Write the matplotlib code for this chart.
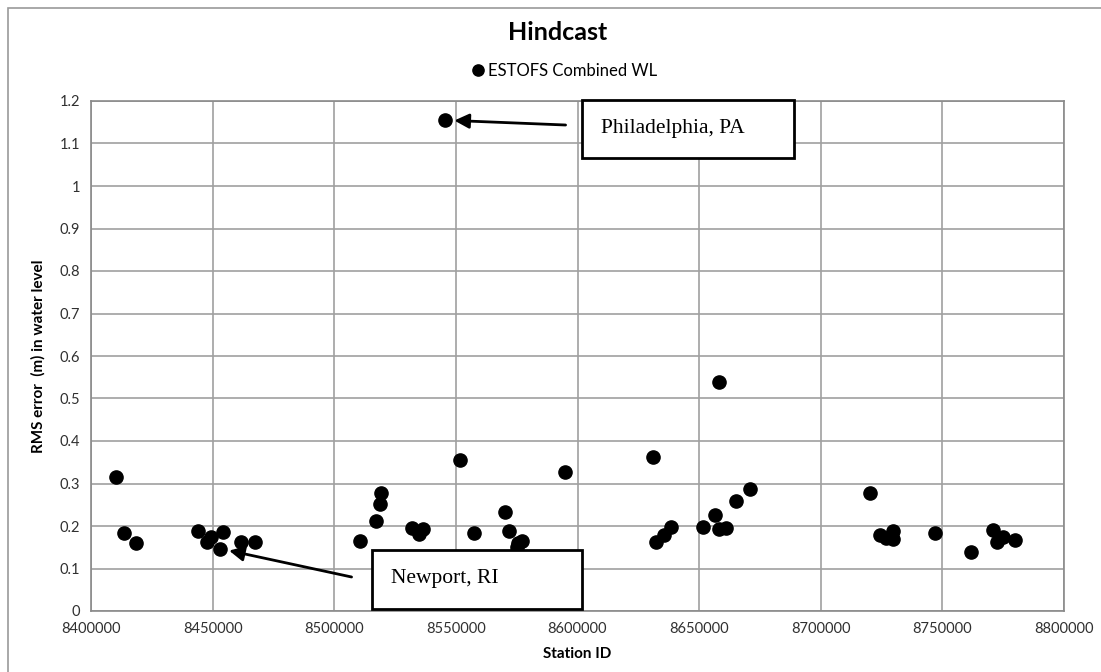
import matplotlib.pyplot as plt
from matplotlib.patches import Rectangle
from matplotlib.ticker import MultipleLocator, FuncFormatter

# station ids and RMS error (m)
station_id = [8410360, 8413490, 8418300, 8444000, 8447490, 8449140, 8452840,
              8454200, 8461760, 8467230,
              8545360,
              8510410, 8516990, 8518920, 8519330, 8531790, 8536310, 8534870,
              8551810, 8557290, 8570320, 8571800, 8575380, 8577020, 8575170,
              8594700,
              8632130, 8635530, 8638570, 8631010, 8651590, 8656380, 8658030,
              8660910, 8658030, 8665300, 8670780,
              8720130, 8724240, 8726700, 8729580, 8729580, 8747130, 8761660,
              8770710, 8772350, 8774820, 8779760]
rms_error = [0.316, 0.183, 0.161, 0.189, 0.162, 0.174, 0.147,
             0.185, 0.163, 0.163,
             1.155,
             0.165, 0.212, 0.252, 0.277, 0.195, 0.193, 0.181,
             0.355, 0.183, 0.233, 0.188, 0.160, 0.165, 0.151,
             0.328,
             0.163, 0.179, 0.197, 0.363, 0.197, 0.226, 0.192,
             0.195, 0.540, 0.259, 0.288,
             0.278, 0.179, 0.171, 0.188, 0.169, 0.183, 0.140,
             0.191, 0.162, 0.174, 0.167]

# labelled stations: (label, point, arrow tail, box x-range, box y-range)
phila = ('Philadelphia, PA', (8545360, 1.155), (8595100, 1.1435),
         (8601700, 8688870), (1.066, 1.202))
newport = ('Newport, RI', (8452840, 0.147), (8507120, 0.080),
           (8515340, 8601700), (0.0047, 0.1435))

sans = ['Lato', 'DejaVu Sans']

fig = plt.figure(figsize=(11.01, 6.72), dpi=100)
fig.patches.append(Rectangle((8/1101, -0.1), 1.2, 1 - 8/672 + 0.1,
                             transform=fig.transFigure, fill=False,
                             edgecolor='#9a9a9a', lw=1.2))
ax = fig.add_axes([91/1101, 61/672, (1064-91)/1101, 510/672])

ax.plot(station_id, rms_error, 'o', color='black', markersize=9.5,
        linestyle='none', label='ESTOFS Combined WL')

ax.set_xlim(8400000, 8800000)
ax.set_ylim(0, 1.2)
ax.xaxis.set_major_locator(MultipleLocator(50000))
ax.yaxis.set_major_locator(MultipleLocator(0.1))
ax.yaxis.set_major_formatter(FuncFormatter(lambda v, p: '%g' % round(v, 1)))
ax.xaxis.set_major_formatter(FuncFormatter(lambda v, p: '%d' % v))
ax.grid(True, color='#a0a0a0', lw=1.2)
ax.set_axisbelow(True)
for s in ax.spines.values():
    s.set_color('#8a8a8a')
    s.set_linewidth(1.2)
ax.tick_params(length=0, labelsize=10.5, labelcolor='#303030', pad=8)
for lab in ax.get_xticklabels() + ax.get_yticklabels():
    lab.set_family(sans)

ax.set_xlabel('Station ID', family=sans, fontweight='bold', fontsize=11,
              labelpad=8)
ax.set_ylabel('RMS error  (m) in water level', family=sans,
              fontweight='bold', fontsize=11, labelpad=10)
fig.text(558/1101, 1 - 33/672, 'Hindcast', family=sans, fontweight='bold',
         fontsize=18, ha='center', va='center')
fig.legend(loc='center', bbox_to_anchor=(563/1101, 1 - 71/672), frameon=False,
           prop={'family': sans, 'size': 12}, handletextpad=0.1,
           handlelength=1, markerscale=0.85)

for label, pt, tail, bx, by in (phila, newport):
    ax.annotate('', xy=pt, xytext=tail,
                arrowprops=dict(arrowstyle='-|>', color='black', lw=2,
                                mutation_scale=22, shrinkA=0, shrinkB=7))
    ax.add_patch(Rectangle((bx[0], by[0]), bx[1] - bx[0], by[1] - by[0],
                           facecolor='white', edgecolor='black', lw=2,
                           clip_on=False, zorder=5))
    ax.text(bx[0] + 8000, (by[0] + by[1]) / 2 + 0.002, label,
            family='Liberation Serif', fontsize=15.5, va='center', zorder=6)

fig.savefig('out.png', dpi=100)
